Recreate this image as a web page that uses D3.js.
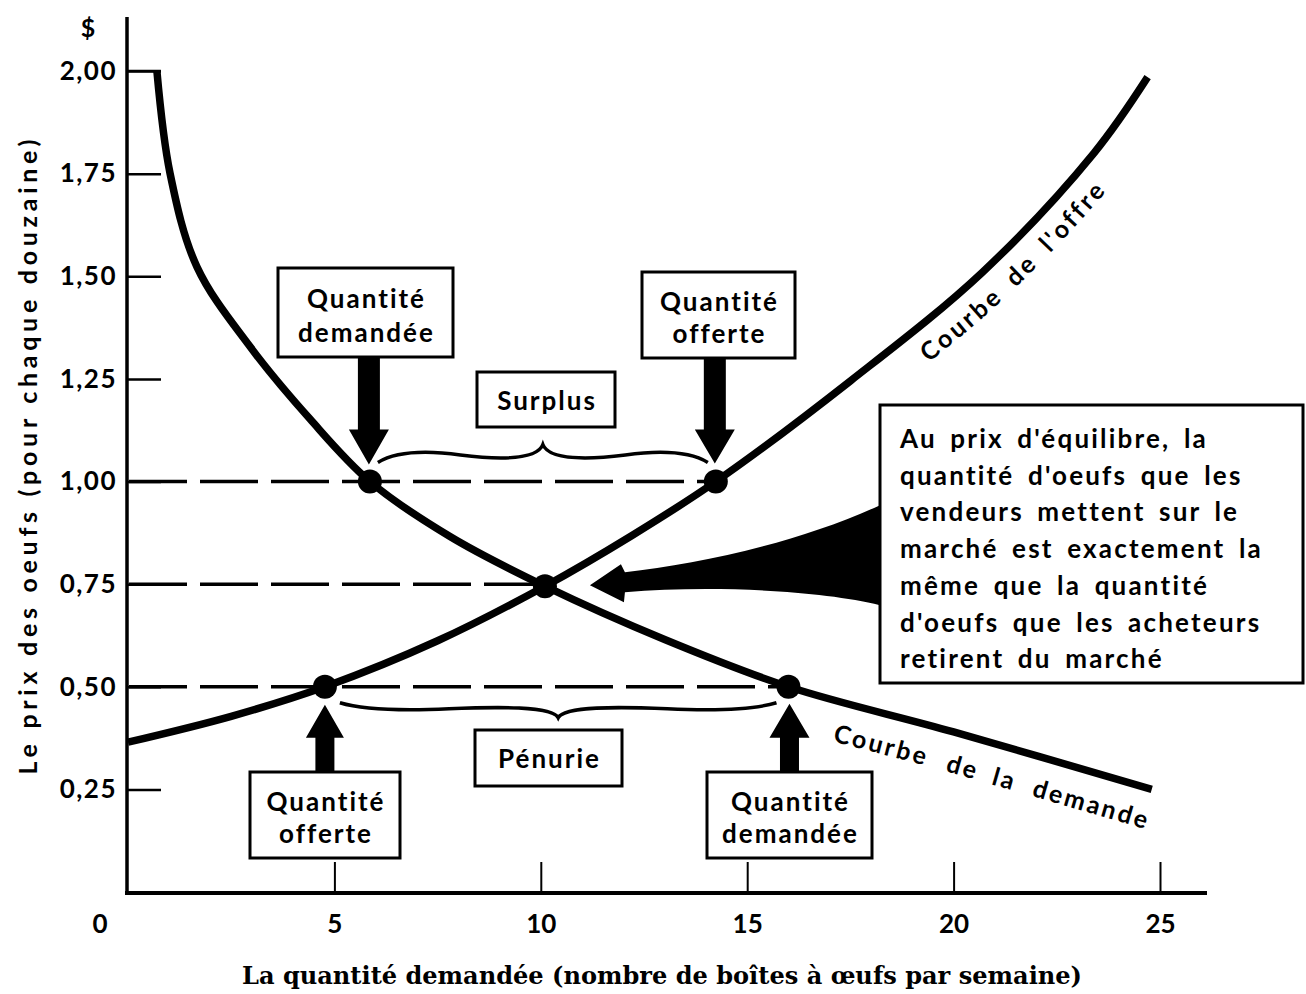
<!DOCTYPE html>
<html><head><meta charset="utf-8">
<script src="https://cdn.jsdelivr.net/npm/d3@7"></script>
<style>body{margin:0;background:#fff} svg{display:block}</style>
</head><body>
<svg id="c" width="1306" height="994"></svg>
<script>
// ---------------- data ----------------
const demandQ = [0.70, 1.02, 1.67, 2.96, 4.41, 5.86, 7.8, 10.1, 13.0, 16.0, 20.0, 24.8];
const demandP = [2.00, 1.75, 1.523, 1.328, 1.152, 1.00, 0.866, 0.745, 0.615, 0.50, 0.39, 0.25];
const supplyQ = [0, 2.5, 4.77, 7.5, 10.1, 12.2, 14.24, 17.5, 20.7, 23.4, 24.7];
const supplyP = [0.365, 0.428, 0.50, 0.612, 0.745, 0.868, 1.00, 1.245, 1.51, 1.80, 1.985];
const xTicks = [5, 10, 15, 20, 25];
const yTicks = [0.25, 0.50, 0.75, 1.00, 1.25, 1.50, 1.75, 2.00];
const keyQ = [5.86, 14.24, 10.1, 4.77, 16.0];
const keyP = [1.00, 1.00, 0.745, 0.50, 0.50];
const dashQ = [14.24, 10.1, 16.0];
const dashP = [1.00, 0.75, 0.50];
const yTitle = "Le prix des oeufs (pour chaque douzaine)";
const xTitle = "La quantité demandée (nombre de boîtes à œufs par semaine)";
const noteLines = ["Au prix d'équilibre, la", "quantité d'oeufs que les", "vendeurs mettent sur le",
  "marché est exactement la", "même que la quantité", "d'oeufs que les acheteurs", "retirent du marché"];
const supplyLabel = "Courbe de l'offre";
const demandWords = ["Courbe", "de", "la", "demande"];

// ---------------- setup ----------------
const svg = d3.select("#c");
const F = "Lato, 'Open Sans', sans-serif";
const x = d3.scaleLinear().domain([0, 25]).range([128, 1160]);
const y = d3.scaleLinear().domain([0, 2]).range([892, 71]);
const Y0 = 893, X0 = 127;

const demand = demandQ.map((q, i) => ({q, p: demandP[i]}));
const supply = supplyQ.map((q, i) => ({q, p: supplyP[i]}));
const line = d3.line().x(d => x(d.q)).y(d => y(d.p)).curve(d3.curveCatmullRom.alpha(0.5));

// axes
const gx = svg.append("g").attr("transform", `translate(0,${Y0})`)
  .call(d3.axisBottom(x).tickValues(xTicks).tickSizeInner(-31).tickSizeOuter(0).tickPadding(22));
gx.select(".domain").remove();
gx.selectAll(".tick line").attr("stroke", "#000").attr("stroke-width", 2);
gx.selectAll(".tick text").attr("font-family", F).attr("font-weight", 700).attr("font-size", 26).attr("fill", "#000");
svg.append("text").attr("x", x(0) - 28).attr("y", Y0 + 22).attr("dy", "0.71em").attr("text-anchor", "middle")
  .attr("font-family", F).attr("font-weight", 700).attr("font-size", 26).text("0");

const gy = svg.append("g").attr("transform", `translate(${X0},0)`)
  .call(d3.axisLeft(y).tickValues(yTicks).tickSizeInner(-34).tickSizeOuter(0).tickPadding(10)
    .tickFormat(d => d.toFixed(2).replace(".", ",")));
gy.select(".domain").remove();
gy.selectAll(".tick line").attr("stroke", "#000").attr("stroke-width", 2.5);
gy.selectAll(".tick text").attr("font-family", F).attr("font-weight", 700).attr("font-size", 26)
  .attr("letter-spacing", 1.5).attr("fill", "#000");

svg.append("line").attr("x1", X0).attr("x2", X0).attr("y1", 17).attr("y2", Y0 + 2).attr("stroke", "#000").attr("stroke-width", 3.5);
svg.append("line").attr("x1", X0 - 2).attr("x2", 1207).attr("y1", Y0).attr("y2", Y0).attr("stroke", "#000").attr("stroke-width", 4);

svg.append("text").attr("x", 88).attr("y", 37).attr("text-anchor", "middle").attr("font-family", F)
  .attr("font-weight", 700).attr("font-size", 25).text("$");

// titles
svg.append("text").attr("transform", `translate(37,457) rotate(-90)`).attr("text-anchor", "middle")
  .attr("font-family", F).attr("font-weight", 700).attr("font-size", 25)
  .attr("textLength", 635).attr("lengthAdjust", "spacing").text(yTitle);
svg.append("text").attr("x", 662).attr("y", 984).attr("text-anchor", "middle")
  .attr("font-family", "'DejaVu Serif', serif").attr("font-weight", 700).attr("font-size", 25)
  .attr("textLength", 840).attr("lengthAdjust", "spacingAndGlyphs").text(xTitle);

// dashed price lines
svg.selectAll(".dash").data(dashQ).join("line")
  .attr("x1", X0 + 2).attr("x2", d => x(d)).attr("y1", (d, i) => y(dashP[i])).attr("y2", (d, i) => y(dashP[i]))
  .attr("stroke", "#000").attr("stroke-width", 3.5).attr("stroke-dasharray", "58 13");

// braces
function brace(x1, x2, yE, dir, a1, a2, a3) {
  const xm = (x1 + x2) / 2, h = (x2 - x1) / 2, Y = v => yE + dir * v;
  return `M${x1},${yE} C${x1 + h * 0.12},${Y(a1)} ${x1 + h * 0.3},${Y(a1)} ${x1 + h * 0.5},${Y((a1 + a2) / 2)}`
    + ` C${x1 + h * 0.72},${Y(a2)} ${xm - 6},${Y(a2 - 1)} ${xm},${Y(a3)}`
    + ` C${xm + 6},${Y(a2 - 1)} ${x2 - h * 0.72},${Y(a2)} ${x2 - h * 0.5},${Y((a1 + a2) / 2)}`
    + ` C${x2 - h * 0.3},${Y(a1)} ${x2 - h * 0.12},${Y(a1)} ${x2},${yE}`;
}
svg.append("path").attr("d", brace(x(keyQ[0]) + 8, x(keyQ[1]) - 8, y(1) - 19, -1, 12, 3, 18))
  .attr("fill", "none").attr("stroke", "#000").attr("stroke-width", 3.5);
svg.append("path").attr("d", brace(x(keyQ[3]) + 15, x(keyQ[4]) - 12, y(0.5) + 16, 1, 8, 4, 15))
  .attr("fill", "none").attr("stroke", "#000").attr("stroke-width", 3.5);

// curves
const dPath = svg.append("path").datum(demand).attr("d", line).attr("fill", "none").attr("stroke", "#000").attr("stroke-width", 7.5);
const sPath = svg.append("path").datum(supply).attr("d", line).attr("fill", "none").attr("stroke", "#000").attr("stroke-width", 7.5);
svg.append("line").attr("x1", X0).attr("x2", x(demandQ[0]) + 4).attr("y1", y(2)).attr("y2", y(2)).attr("stroke", "#000").attr("stroke-width", 2.5);

// key dots
svg.selectAll(".dot").data(keyQ).join("circle")
  .attr("cx", d => x(d)).attr("cy", (d, i) => y(keyP[i])).attr("r", 12).attr("fill", "#000");

// block arrows
function blockArrow(xc, yBase, yTip, sw, hw, hl) {
  const dir = Math.sign(yTip - yBase), yh = yTip - dir * hl;
  return `M${xc - sw},${yBase} L${xc - sw},${yh} L${xc - hw},${yh} L${xc},${yTip} L${xc + hw},${yh} L${xc + sw},${yh} L${xc + sw},${yBase} Z`;
}
svg.append("path").attr("d", blockArrow(x(keyQ[0]) - 1, 356, y(keyP[0]) - 17, 11, 20, 35));
svg.append("path").attr("d", blockArrow(x(keyQ[1]) - 1, 357, y(keyP[1]) - 18, 11, 20, 34));
svg.append("path").attr("d", blockArrow(x(keyQ[3]), 773, y(keyP[3]) + 18, 9.5, 19, 33));
svg.append("path").attr("d", blockArrow(x(keyQ[4]) + 1, 773, y(keyP[4]) + 17, 9.5, 20, 34));

// funnel arrow from the note box to the equilibrium
const tx = x(keyQ[2]) + 45, ty = y(keyP[2]) - 1, BX = 880;
svg.append("path").attr("fill", "#000").attr("d",
  `M${tx},${ty} L${tx + 31},${ty - 21} L${tx + 35},${ty - 13} C${tx + 110},${ty - 21} ${tx + 210},${ty - 43} ${BX},${ty - 80}`
  + ` L${BX},${ty + 20} C${tx + 230},${ty + 5} ${tx + 120},${ty} ${tx + 35},${ty + 7} L${tx + 34},${ty + 17} Z`);

// labelled boxes
const boxes = [
  {x: 278, y: 268, w: 175, h: 89, t: ["Quantité", "demandée"]},
  {x: 642, y: 272, w: 153, h: 86, t: ["Quantité", "offerte"]},
  {x: 477, y: 372, w: 138, h: 55, t: ["Surplus"]},
  {x: 475, y: 730, w: 147, h: 56, t: ["Pénurie"]},
  {x: 250, y: 772, w: 150, h: 86, t: ["Quantité", "offerte"]},
  {x: 707, y: 772, w: 165, h: 86, t: ["Quantité", "demandée"]}
];
boxes.forEach(b => {
  svg.append("rect").attr("x", b.x).attr("y", b.y).attr("width", b.w).attr("height", b.h)
    .attr("fill", "#fff").attr("stroke", "#000").attr("stroke-width", 3);
  const base = b.t.length === 1 ? [b.y + b.h / 2 + 10] : [b.y + b.h * 0.455, b.y + b.h * 0.83];
  b.t.forEach((s, i) => svg.append("text").attr("x", b.x + b.w / 2 + 1).attr("y", base[i]).attr("text-anchor", "middle")
    .attr("font-family", F).attr("font-weight", 700).attr("font-size", 26).attr("letter-spacing", 2).text(s));
});

// note box
svg.append("rect").attr("x", 880).attr("y", 405).attr("width", 423).attr("height", 278)
  .attr("fill", "#fff").attr("stroke", "#000").attr("stroke-width", 3);
noteLines.forEach((s, i) => svg.append("text").attr("x", 900).attr("y", 448 + i * 36.7)
  .attr("font-family", F).attr("font-weight", 700).attr("font-size", 26).attr("letter-spacing", 2.2)
  .attr("word-spacing", 5).text(s));

// curve labels along offset curves
function offsetPts(node, dist, extS, extE) {
  const L = node.getTotalLength(), pts = [];
  const P = s => { const p = node.getPointAtLength(Math.max(0, Math.min(L, s))); return [p.x, p.y]; };
  for (let s = -extS; s <= L + extE; s += 3) {
    const sc = Math.max(1, Math.min(L - 1, s));
    const a = P(sc - 1), b = P(sc + 1);
    let dx = b[0] - a[0], dy = b[1] - a[1]; const n = Math.hypot(dx, dy); dx /= n; dy /= n;
    const base = P(sc), ex = s - sc;
    pts.push([base[0] + dx * ex - dy * dist, base[1] + dy * ex + dx * dist]);
  }
  return pts;
}
function startAt(pts, tx) {
  let len = 0;
  for (let i = 1; i < pts.length; i++) {
    if (pts[i][0] >= tx) return len;
    len += Math.hypot(pts[i][0] - pts[i - 1][0], pts[i][1] - pts[i - 1][1]);
  }
  return len;
}
const defs = svg.append("defs");
const sPts = offsetPts(sPath.node(), 34, 0, 80);
defs.append("path").attr("id", "sOff").attr("d", d3.line()(sPts));
svg.append("text").attr("font-family", F).attr("font-weight", 700).attr("font-size", 25).attr("letter-spacing", 3)
  .attr("word-spacing", 6)
  .append("textPath").attr("href", "#sOff").attr("startOffset", startAt(sPts, 931)).text(supplyLabel);
const dPts = offsetPts(dPath.node(), 40, 0, 120);
defs.append("path").attr("id", "dOff").attr("d", d3.line()(dPts));
const wordStarts = [834, 946, 991, 1033];
demandWords.forEach((w, i) => svg.append("text").attr("font-family", F).attr("font-weight", 700).attr("font-size", 25)
  .attr("letter-spacing", 2.6)
  .append("textPath").attr("href", "#dOff").attr("startOffset", startAt(dPts, wordStarts[i])).text(w));
</script>
</body></html>
